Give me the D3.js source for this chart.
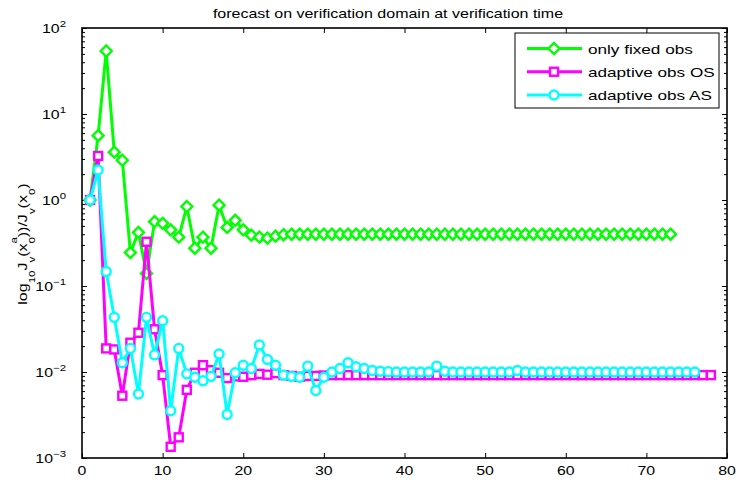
<!DOCTYPE html>
<html>
<head>
<meta charset="utf-8">
<script src="https://cdn.jsdelivr.net/npm/d3@7"></script>
<style>
  body { margin: 0; background: #fff; }
  svg { display: block; }
  text { font-family: "Liberation Sans", Arial, Helvetica, sans-serif; fill: #000; }
</style>
</head>
<body>
<svg id="chart" width="736" height="485"></svg>
<script>
// Ratio J_v(x0^a)/J_v(x0) per iteration (iteration = index + 1)
const onlyFixedObs = [
  1.0, 5.6, 54, 3.6, 2.9, 0.245, 0.42, 0.14, 0.56, 0.535,
  0.45, 0.37, 0.84, 0.275, 0.37, 0.275, 0.87, 0.48, 0.58, 0.45,
  0.39, 0.37, 0.36, 0.38, 0.395,
  0.40, 0.40, 0.40, 0.40, 0.40, 0.40, 0.40, 0.40, 0.40, 0.40, 0.40, 0.40,
  0.40, 0.40, 0.40, 0.40, 0.40, 0.40, 0.40, 0.40, 0.40, 0.40, 0.40, 0.40,
  0.40, 0.40, 0.40, 0.40, 0.40, 0.40, 0.40, 0.40, 0.40, 0.40, 0.40, 0.40,
  0.40, 0.40, 0.40, 0.40, 0.40, 0.40, 0.40, 0.40, 0.40, 0.40, 0.40, 0.40
];

const adaptiveObsOS = [
  1.0, 3.25, 0.0188, 0.0183, 0.0053, 0.0219, 0.0286, 0.327, 0.0314, 0.0092,
  0.00135, 0.00174, 0.0062, 0.0098, 0.0120, 0.0105, 0.0098, 0.0085, 0.0089, 0.0088,
  0.0092, 0.0095, 0.0093, 0.0097, 0.0092, 0.0090, 0.0088, 0.0090, 0.0090, 0.0091,
  0.0092, 0.0092, 0.0092, 0.0092, 0.0092, 0.0092, 0.0092, 0.0092, 0.0092, 0.0092, 0.0092, 0.0092,
  0.0092, 0.0092, 0.0092, 0.0092, 0.0092, 0.0092, 0.0092, 0.0092, 0.0092, 0.0092, 0.0092, 0.0092,
  0.0092, 0.0092, 0.0092, 0.0092, 0.0092, 0.0092, 0.0092, 0.0092, 0.0092, 0.0092, 0.0092, 0.0092,
  0.0092, 0.0092, 0.0092, 0.0092, 0.0092, 0.0092, 0.0092, 0.0092, 0.0092, 0.0092, 0.0092, 0.0092
];

const adaptiveObsAS = [
  1.0, 2.23, 0.147, 0.0432, 0.0128, 0.0188, 0.00555, 0.0432, 0.0158, 0.0395,
  0.00355, 0.0188, 0.0095, 0.0087, 0.0079, 0.0089, 0.0162, 0.0032, 0.0098, 0.0120,
  0.0110, 0.0206, 0.0140, 0.0120, 0.0092, 0.0089, 0.0087, 0.0117, 0.0061, 0.0087,
  0.0100, 0.0110, 0.0128, 0.0115, 0.0110, 0.0104, 0.0102, 0.0101,
  0.0100, 0.0100, 0.0100, 0.0100, 0.0100, 0.0117, 0.0102,
  0.0100, 0.0100, 0.0100, 0.0100, 0.0100, 0.0100, 0.0100, 0.0100, 0.0104,
  0.0100, 0.0100, 0.0100, 0.0100, 0.0100, 0.0100, 0.0100, 0.0100, 0.0100, 0.0100, 0.0100,
  0.0100, 0.0100, 0.0100, 0.0100, 0.0100, 0.0100, 0.0100, 0.0100, 0.0100, 0.0100, 0.0100
];

const seriesNames = ["only fixed obs", "adaptive obs OS", "adaptive obs AS"];
const seriesColors = ["#00ff00", "#ff00ff", "#00ffff"];
const seriesMarkers = ["diamond", "square", "circle"];
const xTicks = [0, 10, 20, 30, 40, 50, 60, 70, 80];
const yExponents = [-3, -2, -1, 0, 1, 2];
const titleText = "forecast on verification domain at verification time";

const svg = d3.select("#chart");
const plotL = 82, plotR = 727, plotT = 28, plotB = 458;
const stretch = 1.27; // horizontal text stretch

const x = d3.scaleLinear().domain([0, 80]).range([plotL, plotR]);
const y = d3.scaleLog().domain([1e-3, 1e2]).range([plotB, plotT]);

// Minor log ticks
const minorVals = [];
yExponents.slice(0, -1).forEach(e => {
  for (let m = 2; m <= 9; m++) minorVals.push(m * Math.pow(10, e));
});
const majorVals = yExponents.map(e => Math.pow(10, e));

function styleAxis(g) {
  g.selectAll(".domain").remove();
  g.selectAll("line").attr("stroke", "#000").attr("stroke-width", 1);
  g.selectAll("text").remove();
}

svg.append("g").attr("transform", `translate(0,${plotB})`)
  .call(d3.axisBottom(x).tickValues(xTicks).tickSize(-5)).call(styleAxis);
svg.append("g").attr("transform", `translate(0,${plotT})`)
  .call(d3.axisTop(x).tickValues(xTicks).tickSize(-5)).call(styleAxis);
svg.append("g").attr("transform", `translate(${plotL},0)`)
  .call(d3.axisLeft(y).tickValues(majorVals).tickSize(-5)).call(styleAxis);
svg.append("g").attr("transform", `translate(${plotL},0)`)
  .call(d3.axisLeft(y).tickValues(minorVals).tickSize(-3)).call(styleAxis);
svg.append("g").attr("transform", `translate(${plotR},0)`)
  .call(d3.axisRight(y).tickValues(majorVals).tickSize(-5)).call(styleAxis);
svg.append("g").attr("transform", `translate(${plotR},0)`)
  .call(d3.axisRight(y).tickValues(minorVals).tickSize(-3)).call(styleAxis);

// Series
const lineGen = d3.line()
  .x((d, i) => x(i + 1))
  .y(d => y(d));

function drawMarker(g, type, cx, cy, color) {
  if (type === "diamond") {
    const s = 5.5;
    g.append("path")
      .attr("d", `M${cx},${cy - s}L${cx + s},${cy}L${cx},${cy + s}L${cx - s},${cy}Z`)
      .attr("fill", "#fff").attr("stroke", color).attr("stroke-width", 2.4);
  } else if (type === "square") {
    const s = 4;
    g.append("rect")
      .attr("x", cx - s).attr("y", cy - s).attr("width", 2 * s).attr("height", 2 * s)
      .attr("fill", "#fff").attr("stroke", color).attr("stroke-width", 2.4);
  } else {
    g.append("circle")
      .attr("cx", cx).attr("cy", cy).attr("r", 4.5)
      .attr("fill", "#fff").attr("stroke", color).attr("stroke-width", 2.4);
  }
}

const allSeries = [onlyFixedObs, adaptiveObsOS, adaptiveObsAS];
allSeries.forEach((vals, k) => {
  const g = svg.append("g");
  g.append("path")
    .datum(vals)
    .attr("d", lineGen)
    .attr("fill", "none")
    .attr("stroke", seriesColors[k])
    .attr("stroke-width", 3)
    .attr("stroke-linejoin", "round");
  vals.forEach((v, i) => drawMarker(g, seriesMarkers[k], x(i + 1), y(v), seriesColors[k]));
});

// Plot box on top
svg.append("rect")
  .attr("x", plotL).attr("y", plotT)
  .attr("width", plotR - plotL).attr("height", plotB - plotT)
  .attr("fill", "none").attr("stroke", "#000").attr("stroke-width", 1.6);

// X tick labels
xTicks.forEach(t => {
  svg.append("text")
    .attr("transform", `translate(${x(t)},${plotB + 17}) scale(${stretch},1)`)
    .attr("text-anchor", "middle")
    .attr("font-size", 12.5)
    .text(t);
});

// Y tick labels: 10^e
yExponents.forEach(e => {
  const t = svg.append("text")
    .attr("transform", `translate(${plotL - 16},${y(Math.pow(10, e)) + 5}) scale(${stretch},1)`)
    .attr("text-anchor", "end")
    .attr("font-size", 12.5);
  t.append("tspan").text("10");
  t.append("tspan").attr("font-size", 9).attr("dy", -6).text(e < 0 ? "\u2212" + Math.abs(e) : e);
});

// Title
svg.append("text")
  .attr("transform", `translate(388,18) scale(${stretch},1)`)
  .attr("text-anchor", "middle")
  .attr("font-size", 12.6)
  .text(titleText);

// Y axis label: log10 Jv(x0^a)/Jv(x0)
const yl = svg.append("text")
  .attr("transform", `translate(27,244) rotate(-90) scale(1,0.75)`)
  .attr("text-anchor", "middle")
  .attr("font-size", 16);
const subFs = 11.5, subDy = 10;
yl.append("tspan").text("log");
yl.append("tspan").attr("font-size", subFs).attr("dy", subDy).text("10");
yl.append("tspan").attr("dy", -subDy).text("J");
yl.append("tspan").attr("font-size", subFs).attr("dy", subDy).text("v");
yl.append("tspan").attr("dy", -subDy).text("(x");
yl.append("tspan").attr("font-size", subFs).attr("dy", subDy).text("0");
yl.append("tspan").attr("font-size", subFs).attr("dx", -6.5).attr("dy", -23).text("a");
yl.append("tspan").attr("dy", 13).text("))/J");
yl.append("tspan").attr("font-size", subFs).attr("dy", subDy).text("v");
yl.append("tspan").attr("dy", -subDy).text("(x");
yl.append("tspan").attr("font-size", subFs).attr("dy", subDy).text("0");
yl.append("tspan").attr("dy", -subDy).text(")");

// Legend
const lg = svg.append("g");
lg.append("rect")
  .attr("x", 515).attr("y", 33).attr("width", 204).attr("height", 75)
  .attr("fill", "#fff").attr("stroke", "#000").attr("stroke-width", 1);
const rowY = d3.scalePoint().domain(seriesNames).range([48.5, 95]);
seriesNames.forEach((name, k) => {
  const yy = rowY(name);
  lg.append("line")
    .attr("x1", 527).attr("x2", 582).attr("y1", yy).attr("y2", yy)
    .attr("stroke", seriesColors[k]).attr("stroke-width", 3);
  drawMarker(lg, seriesMarkers[k], 554, yy, seriesColors[k]);
  lg.append("text")
    .attr("transform", `translate(588,${yy + 5}) scale(${stretch},1)`)
    .attr("font-size", 13.5)
    .text(name);
});
</script>
</body>
</html>
